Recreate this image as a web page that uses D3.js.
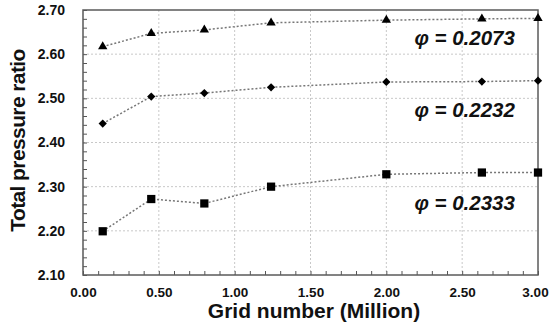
<!DOCTYPE html>
<html>
<head>
<meta charset="utf-8">
<script src="https://cdn.jsdelivr.net/npm/d3@7"></script>
<style>
  body { margin: 0; background: #fff; }
  svg { display: block; font-family: "Liberation Sans", Arial, sans-serif; }
</style>
</head>
<body>
<svg id="chart"></svg>
<script>
// grid size in million cells
const gridNumber = [0.13, 0.45, 0.80, 1.24, 2.00, 2.63, 3.00];

// total pressure ratio per flow coefficient
const phi2073 = [2.617, 2.647, 2.655, 2.671, 2.677, 2.680, 2.681];
const phi2232 = [2.443, 2.504, 2.512, 2.525, 2.537, 2.538, 2.540];
const phi2333 = [2.199, 2.272, 2.262, 2.300, 2.328, 2.332, 2.332];

const seriesLabels = ['φ = 0.2073', 'φ = 0.2232', 'φ = 0.2333'];
const xTicks = [0, 0.5, 1.0, 1.5, 2.0, 2.5, 3.0];
const yTicks = [2.1, 2.2, 2.3, 2.4, 2.5, 2.6, 2.7];

const width = 550, height = 331;
const margin = { top: 10, right: 12, bottom: 56, left: 83 };
const w = width - margin.left - margin.right;
const h = height - margin.top - margin.bottom;

const svg = d3.select('#chart').attr('width', width).attr('height', height);
const g = svg.append('g').attr('transform', `translate(${margin.left},${margin.top})`);

const x = d3.scaleLinear().domain([0, 3]).range([0, w]);
const y = d3.scaleLinear().domain([2.1, 2.7]).range([h, 0]);

// dotted grid
g.append('g').selectAll('line.vg')
  .data(xTicks.slice(1, -1)).enter().append('line')
  .attr('x1', d => x(d)).attr('x2', d => x(d))
  .attr('y1', 0).attr('y2', h)
  .attr('stroke', '#c8c8c8').attr('stroke-width', 1).attr('stroke-dasharray', '2,2');
g.append('g').selectAll('line.hg')
  .data(yTicks.slice(1, -1)).enter().append('line')
  .attr('x1', 0).attr('x2', w)
  .attr('y1', d => y(d)).attr('y2', d => y(d))
  .attr('stroke', '#c8c8c8').attr('stroke-width', 1).attr('stroke-dasharray', '2,2');

// minor ticks pointing inward
const xMinor = d3.range(0, 31).map(i => i / 10);
const yMinor = d3.range(0, 31).map(i => 2.1 + i * 0.02);
g.append('g').attr('transform', `translate(0,${h})`)
  .call(d3.axisBottom(x).tickValues(xMinor).tickSize(-4).tickFormat(''))
  .call(a => a.select('.domain').remove())
  .selectAll('line').attr('stroke', '#555');
g.append('g')
  .call(d3.axisLeft(y).tickValues(yMinor).tickSize(-4).tickFormat(''))
  .call(a => a.select('.domain').remove())
  .selectAll('line').attr('stroke', '#555');

// frame
g.append('rect').attr('x', 0).attr('y', 0).attr('width', w).attr('height', h)
  .attr('fill', 'none').attr('stroke', '#5a5a5a').attr('stroke-width', 1.5);

// tick labels
const xAxis = g.append('g').attr('transform', `translate(0,${h})`)
  .call(d3.axisBottom(x).tickValues(xTicks).tickSize(0).tickPadding(12).tickFormat(d3.format('.2f')));
xAxis.select('.domain').remove();
xAxis.selectAll('text').attr('font-size', 13.5).attr('font-weight', 'bold').attr('fill', '#111')
  .attr('font-family', '"Liberation Sans", Arial, sans-serif');
// last label would run off the edge, pull it in a bit
xAxis.selectAll('.tick:last-of-type text').attr('dx', -3);

const yAxis = g.append('g')
  .call(d3.axisLeft(y).tickValues(yTicks).tickSize(0).tickPadding(18).tickFormat(d3.format('.2f')));
yAxis.select('.domain').remove();
yAxis.selectAll('text').attr('font-size', 14).attr('font-weight', 'bold').attr('fill', '#111')
  .attr('font-family', '"Liberation Sans", Arial, sans-serif');

// axis titles
svg.append('text')
  .attr('x', margin.left + x(1.5) + 3.5).attr('y', 318)
  .attr('text-anchor', 'middle').attr('font-size', 21).attr('font-weight', 'bold').attr('fill', '#111')
  .text('Grid number (Million)');
svg.append('text')
  .attr('transform', `translate(25,${margin.top + h / 2 - 2}) rotate(-90)`)
  .attr('text-anchor', 'middle').attr('font-size', 21).attr('font-weight', 'bold').attr('fill', '#111')
  .attr('letter-spacing', -0.6)
  .text('Total pressure ratio');

// series
const series = [
  { values: phi2073, symbol: d3.symbolTriangle, size: 38, rot: 0, label: seriesLabels[0], labelY: 2.621 },
  { values: phi2232, symbol: d3.symbolSquare, size: 34, rot: 45, label: seriesLabels[1], labelY: 2.458 },
  { values: phi2333, symbol: d3.symbolSquare, size: 68, rot: 0, label: seriesLabels[2], labelY: 2.247 }
];

const line = d3.line().x((d, i) => x(gridNumber[i])).y(d => y(d));

series.forEach(s => {
  g.append('path').datum(s.values)
    .attr('d', line).attr('fill', 'none')
    .attr('stroke', '#777').attr('stroke-width', 1.5).attr('stroke-dasharray', '2,2');
  g.append('g').selectAll('path.m')
    .data(s.values).enter().append('path')
    .attr('transform', (d, i) => `translate(${x(gridNumber[i])},${y(d)}) rotate(${s.rot})`)
    .attr('d', d3.symbol().type(s.symbol).size(s.size))
    .attr('fill', '#000');
  g.append('text')
    .attr('x', x(2.185)).attr('y', y(s.labelY))
    .attr('font-size', 20.5).attr('font-weight', 'bold').attr('font-style', 'italic')
    .attr('fill', '#111')
    .text(s.label);
});
</script>
</body>
</html>
